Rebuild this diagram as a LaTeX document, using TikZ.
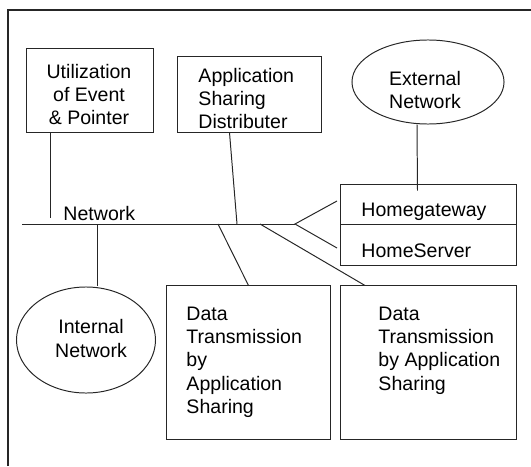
\documentclass[tikz,border=0pt]{standalone}
\usepackage{fontspec}
\setmainfont{Liberation Sans}
\usetikzlibrary{shapes.geometric}

\tikzset{
  unit/.style={draw,rectangle,inner sep=0pt},
  cloud/.style={draw,ellipse,inner sep=0pt},
  lbl/.style={inner sep=0pt,font=\fontsize{13.9}{16.4}\selectfont},
}

\begin{document}
\begin{tikzpicture}[x=0.025cm,y=-0.025cm,line width=0.7pt,draw=black!85]
        \useasboundingbox (0,0) rectangle (531,466);
        \draw[line width=0.9pt] (8,466) -- (8,10) -- (531,10);

        \node[unit,minimum width=3.15cm,minimum height=2.075cm] (util) at (90,90.5) {};
        \node[lbl,align=center,anchor=base] (utilT) at (89,124.5) {Utilization\\of Event\\\& Pointer};

        \node[unit,minimum width=3.575cm,minimum height=1.875cm] (appsd) at (249.5,94.5) {};
        \node[lbl,align=left,anchor=base west] (appsdT) at (198,128.7) {Application\\Sharing\\Distributer};

        \node[cloud,minimum width=3.8cm,minimum height=2.1cm] (ext) at (428,82) {};
        \node[lbl,align=center,anchor=base] (extT) at (425,108.5) {External\\Network};

        \node[unit,minimum width=4.375cm,minimum height=1cm] (gw) at (428.5,204) {};
        \node[lbl,anchor=base west] (gwT) at (361,216.7) {Homegateway};
        \node[unit,minimum width=4.375cm,minimum height=1.025cm] (hs) at (428.5,244.5) {};
        \node[lbl,anchor=base west] (hsT) at (361,257) {HomeServer};

        \node[lbl,anchor=base west] (netT) at (63,220) {Network};

        \node[cloud,minimum width=3.475cm,minimum height=2.65cm] (intnet) at (86,340) {};
        \node[lbl,align=center,anchor=base] (intnetT) at (91,357) {Internal\\Network};

        \node[unit,minimum width=4.075cm,minimum height=3.825cm] (dt1) at (248.5,362.5) {};
        \node[lbl,align=left,anchor=base west] (dt1T) at (186,413.1) {Data\\Transmission\\by\\Application\\Sharing};

        \node[unit,minimum width=4.375cm,minimum height=3.825cm] (dt2) at (428.5,362.5) {};
        \node[lbl,align=left,anchor=base west] (dt2T) at (378,390) {Data\\Transmission\\by Application\\Sharing};

        \coordinate (busW) at (22,224);
        \coordinate (fork) at (295,224);
        \coordinate (utilEnd) at (50,218);
        \coordinate (busApp) at (237,224);
        \coordinate (busInt) at (97,224);
        \coordinate (busDt1) at (218,224);
        \coordinate (busDt2) at (260,224);
        \coordinate (gwEnd) at (337,201);
        \coordinate (hsEnd) at (337,248);

        \draw[-] (busW) to (fork);
        \draw[-] (util.south -| utilEnd) to (utilEnd);
        \draw[-] ([xshift=-0.5cm]appsd.south) to (busApp);
        \draw[-] (busInt) to (intnet.north -| busInt);
        \draw[-] (busDt1) to (dt1.north);
        \draw[-] (busDt2) to ([xshift=-1.5875cm]dt2.north);
        \draw[-] (gwEnd) to (fork) to (hsEnd);
        \draw[-] ([xshift=-0.275cm]ext.south) to ([xshift=-0.275cm,yshift=-0.175cm]gw.north);
      \end{tikzpicture}
\end{document}
